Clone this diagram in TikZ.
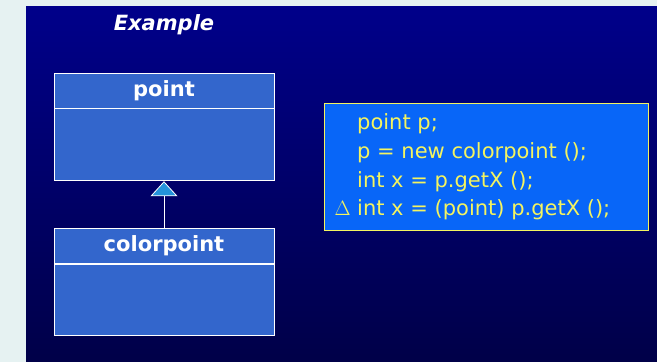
\documentclass[tikz,border=0pt]{standalone}
\usepackage{fontspec}
\setmainfont{DejaVu Sans}
\usetikzlibrary{arrows.meta,positioning}
\definecolor{pagebg}{HTML}{E6F2F2}
\definecolor{slidetop}{HTML}{00008A}
\definecolor{slidebot}{HTML}{000048}
\definecolor{classblue}{HTML}{3366CC}
\definecolor{codeblue}{HTML}{0866F8}
\definecolor{codeyellow}{HTML}{F4F460}
\tikzset{
  classhead/.style={rectangle, draw=white, thick, fill=classblue, minimum width=220pt, minimum height=35pt, inner sep=0pt, text=white, font=\fontsize{21}{23}\selectfont\bfseries},
  classbody/.style={rectangle, draw=white, thick, fill=classblue, minimum width=220pt, inner sep=0pt},
  codebox/.style={rectangle, draw=codeyellow, thick, fill=codeblue, minimum width=324pt, minimum height=127pt, inner sep=0pt},
  codetext/.style={text=codeyellow, align=left, inner sep=0pt, font=\fontsize{21}{28.6}\selectfont},
  inherit/.style={-{Triangle[length=15pt, width=27pt, fill=classblue!70!cyan]}, thick, white}
}

\begin{document}
\begin{tikzpicture}[x=1pt, y=-1pt]
  \useasboundingbox (0,0) rectangle (657,362);
  \fill[pagebg] (0,0) rectangle (657,362);
  \shade[top color=slidetop, bottom color=slidebot] (26,6) rectangle (657,362);
  \node[text=white, font=\fontsize{21}{23}\selectfont\bfseries\itshape] (title) at (164,25) {Example};
  % superclass
  \node[classhead] (pointhead) at (164,90.5) {point};
  \node[classbody, minimum height=72pt, below=0pt of pointhead] (pointbody) {};
  % subclass
  \node[classhead] (colorhead) at (164,246) {colorpoint};
  \node[classbody, minimum height=71pt, below=0pt of colorhead] (colorbody) {};
  \draw[inherit] (colorhead.north) -- (pointbody.south);
  % code
  \node[codebox] (code) at (486,166.5) {};
  \node[codetext, anchor=west] (lines) at (357,167) {point p;\\
    p = new colorpoint ();\\
    int x = p.getX ();\\
    \llap{$\Delta$\ }int x = (point) p.getX ();};
\end{tikzpicture}
\end{document}
